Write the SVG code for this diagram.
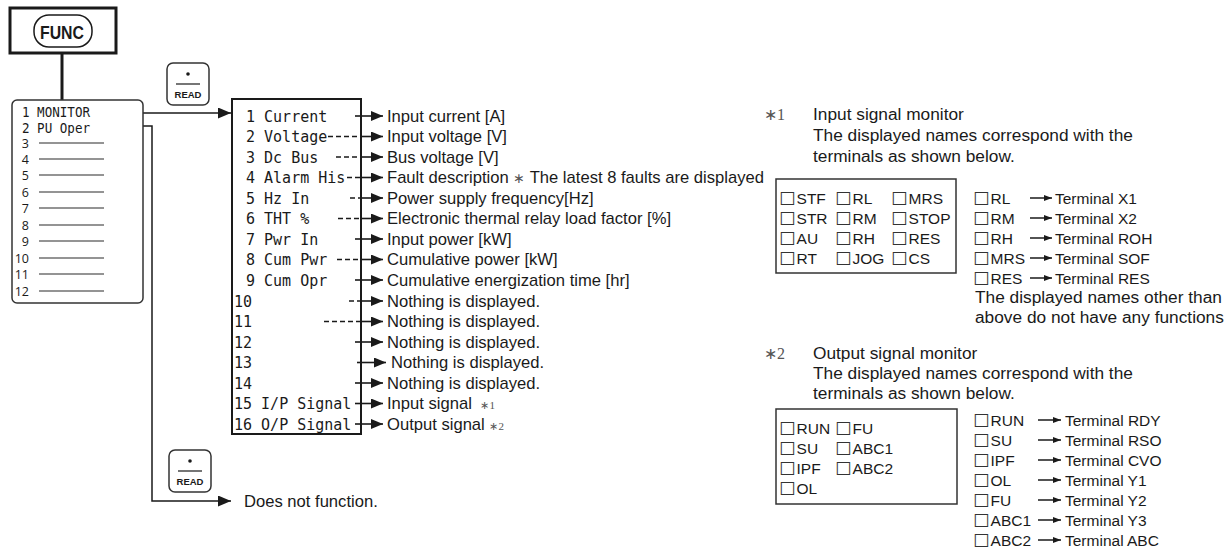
<svg xmlns="http://www.w3.org/2000/svg" width="1232" height="550" viewBox="0 0 1232 550">
<defs>
<style>
.bg{fill:#fff}
.ln{stroke:#1a1a1a;stroke-width:1.5;fill:none}
.thick{stroke:#1a1a1a;stroke-width:3;fill:none}
.gbox{stroke:#333;stroke-width:1.5;fill:#fff}
.gray{stroke:#707070;stroke-width:1.3}
.dash{stroke:#1a1a1a;stroke-width:1.6;stroke-dasharray:5 3;fill:none}
.sol{stroke:#1a1a1a;stroke-width:1.6;fill:none}
.mono{font-family:"DejaVu Sans Mono","Liberation Mono",monospace;fill:#1a1a1a}
.num{font-family:"Open Sans","Noto Sans",sans-serif;font-size:12.5px;fill:#1a1a1a}
.lbl{font-family:"Liberation Sans",Arial,sans-serif;font-size:16.6px;fill:#1a1a1a}
.note{font-family:"Liberation Sans",Arial,sans-serif;font-size:17.3px;fill:#1a1a1a}
.item{font-family:"Liberation Sans",Arial,sans-serif;font-size:15.5px;fill:#1a1a1a}
.sq{font-family:"DejaVu Sans",sans-serif;font-size:17.5px;fill:#333}
.ser{font-family:"Liberation Serif","Times New Roman",serif;fill:#555}
.key{font-family:"Liberation Sans",Arial,sans-serif;font-weight:bold;fill:#1a1a1a}
</style>
<marker id="ahL" markerWidth="13" markerHeight="11" refX="13" refY="5.5" orient="auto" markerUnits="userSpaceOnUse"><path d="M0,0 L13,5.5 L0,11 z" fill="#1a1a1a"/></marker>
<marker id="ah" markerWidth="12" markerHeight="10" refX="12" refY="5" orient="auto" markerUnits="userSpaceOnUse"><path d="M0,0 L12,5 L0,10 z" fill="#1a1a1a"/></marker>
<marker id="ahS" markerWidth="8" markerHeight="6" refX="8" refY="3" orient="auto" markerUnits="userSpaceOnUse"><path d="M0,0 L8,3 L0,6 z" fill="#1a1a1a"/></marker>
</defs>
<rect class="bg" x="0" y="0" width="1232" height="550"/>

<g id="connectors">
<line class="thick" x1="62" y1="53" x2="62" y2="100"/>
<path class="ln" d="M112,113 H231" marker-end="url(#ahL)"/>
<path class="ln" d="M112,126 H152 V501 H231" marker-end="url(#ahL)"/>
<g id="list-arrows">
<path class="dash" d="M355,116 H362"/><path class="sol" d="M361,116 H383" marker-end="url(#ah)"/>
<path class="dash" d="M328,136.5 H362"/><path class="sol" d="M361,136.5 H383" marker-end="url(#ah)"/>
<path class="dash" d="M336,157 H362"/><path class="sol" d="M361,157 H383" marker-end="url(#ah)"/>
<path class="dash" d="M347,177.5 H362"/><path class="sol" d="M361,177.5 H383" marker-end="url(#ah)"/>
<path class="dash" d="M350,198 H362"/><path class="sol" d="M361,198 H383" marker-end="url(#ah)"/>
<path class="dash" d="M338,218.5 H362"/><path class="sol" d="M361,218.5 H383" marker-end="url(#ah)"/>
<path class="dash" d="M355,239 H362"/><path class="sol" d="M361,239 H383" marker-end="url(#ah)"/>
<path class="dash" d="M337,259.5 H362"/><path class="sol" d="M361,259.5 H383" marker-end="url(#ah)"/>
<path class="dash" d="M355,280 H362"/><path class="sol" d="M361,280 H383" marker-end="url(#ah)"/>
<path class="dash" d="M349,301 H362"/><path class="sol" d="M361,301 H383" marker-end="url(#ah)"/>
<path class="dash" d="M324,321.5 H362"/><path class="sol" d="M361,321.5 H383" marker-end="url(#ah)"/>
<path class="dash" d="M355,342 H362"/><path class="sol" d="M361,342 H383" marker-end="url(#ah)"/>
<path class="dash" d="M357,362.5 H362"/><path class="sol" d="M361,362.5 H386" marker-end="url(#ah)"/>
<path class="dash" d="M355,383 H362"/><path class="sol" d="M361,383 H383" marker-end="url(#ah)"/>
<path class="dash" d="M355,403.5 H362"/><path class="sol" d="M361,403.5 H383" marker-end="url(#ah)"/>
<path class="dash" d="M355,424 H362"/><path class="sol" d="M361,424 H383" marker-end="url(#ah)"/>
</g>
<g id="input-map-arrows">
<path class="ln" d="M1030,198 H1052" marker-end="url(#ahS)"/>
<path class="ln" d="M1030,218 H1052" marker-end="url(#ahS)"/>
<path class="ln" d="M1030,238 H1052" marker-end="url(#ahS)"/>
<path class="ln" d="M1030,258 H1052" marker-end="url(#ahS)"/>
<path class="ln" d="M1030,278 H1052" marker-end="url(#ahS)"/>
</g>
<g id="output-map-arrows">
<path class="ln" d="M1038,420 H1061" marker-end="url(#ahS)"/>
<path class="ln" d="M1038,440 H1061" marker-end="url(#ahS)"/>
<path class="ln" d="M1038,460 H1061" marker-end="url(#ahS)"/>
<path class="ln" d="M1038,480 H1061" marker-end="url(#ahS)"/>
<path class="ln" d="M1038,500 H1061" marker-end="url(#ahS)"/>
<path class="ln" d="M1038,520 H1061" marker-end="url(#ahS)"/>
<path class="ln" d="M1038,540 H1061" marker-end="url(#ahS)"/>
</g>
</g>

<g id="func-key">
<rect x="10" y="8" width="106" height="45" fill="#fff" stroke="#1a1a1a" stroke-width="3"/>
<rect x="34" y="15" width="58" height="32" rx="15" fill="#fff" stroke="#1a1a1a" stroke-width="1.5"/>
<text class="key" x="62" y="38.5" font-size="18" text-anchor="middle" textLength="44" lengthAdjust="spacingAndGlyphs">FUNC</text>
</g>

<g id="menu">
<rect x="12" y="100" width="131" height="203" rx="5" class="gbox"/>
<text class="mono" x="22" y="117" font-size="14" textLength="68" lengthAdjust="spacingAndGlyphs">1 MONITOR</text>
<text class="mono" x="22" y="132.5" font-size="14" textLength="68" lengthAdjust="spacingAndGlyphs">2 PU Oper</text>
<g class="gray">
<line x1="39" y1="143" x2="104" y2="143"/><line x1="39" y1="159" x2="104" y2="159"/>
<line x1="39" y1="175" x2="104" y2="175"/><line x1="39" y1="192" x2="104" y2="192"/>
<line x1="39" y1="208" x2="104" y2="208"/><line x1="39" y1="225" x2="104" y2="225"/>
<line x1="39" y1="241" x2="104" y2="241"/><line x1="39" y1="258" x2="104" y2="258"/>
<line x1="39" y1="274" x2="104" y2="274"/><line x1="39" y1="291" x2="104" y2="291"/>
</g>
<g class="num" text-anchor="end">
<text x="29" y="148">3</text><text x="29" y="164">4</text><text x="29" y="180">5</text>
<text x="29" y="197">6</text><text x="29" y="213">7</text><text x="29" y="230">8</text>
<text x="29" y="246">9</text><text x="29" y="263">10</text><text x="29" y="279">11</text>
<text x="29" y="296">12</text>
</g>
</g>

<g id="read-key-1">
<rect x="167" y="63" width="42" height="42" rx="6" class="gbox" stroke-width="1.2"/>
<circle cx="188" cy="74" r="1.8" fill="#1a1a1a"/>
<line x1="176" y1="84" x2="200" y2="84" stroke="#1a1a1a" stroke-width="1.2"/>
<text class="key" x="188" y="98" font-size="9.5" text-anchor="middle">READ</text>
</g>

<g id="read-key-2">
<rect x="169" y="450" width="42" height="42" rx="6" class="gbox" stroke-width="1.2"/>
<circle cx="190" cy="461" r="1.8" fill="#1a1a1a"/>
<line x1="178" y1="471" x2="202" y2="471" stroke="#1a1a1a" stroke-width="1.2"/>
<text class="key" x="190" y="485" font-size="9.5" text-anchor="middle">READ</text>
</g>

<g id="not-function">
<text class="lbl" x="244" y="507">Does not function.</text>
</g>

<g id="monitor-list">
<rect x="232" y="99" width="129" height="335" fill="none" stroke="#1a1a1a" stroke-width="2"/>
<g class="mono" font-size="15">
<text x="246" y="121.5">1 Current</text>
<text x="246" y="142">2 Voltage</text>
<text x="246" y="162.5">3 Dc Bus</text>
<text x="246" y="183">4 Alarm His</text>
<text x="246" y="203.5">5 Hz In</text>
<text x="246" y="224">6 THT %</text>
<text x="246" y="244.5">7 Pwr In</text>
<text x="246" y="265">8 Cum Pwr</text>
<text x="246" y="285.5">9 Cum Opr</text>
<text x="234" y="306.5">10</text>
<text x="234" y="327">11</text>
<text x="234" y="347.5">12</text>
<text x="234" y="368">13</text>
<text x="234" y="388.5">14</text>
<text x="234" y="409">15 I/P Signal</text>
<text x="234" y="429.5">16 O/P Signal</text>
</g>
</g>

<g id="monitor-descriptions" class="lbl">
<text x="387" y="121.7">Input current [A]</text>
<text x="387" y="142.2">Input voltage [V]</text>
<text x="387" y="162.7">Bus voltage [V]</text>
<text x="387" y="183.2">Fault description <tspan class="ser" font-size="14">∗</tspan> The latest 8 faults are displayed</text>
<text x="387" y="203.7">Power supply frequency[Hz]</text>
<text x="387" y="224.2">Electronic thermal relay load factor [%]</text>
<text x="387" y="244.7">Input power [kW]</text>
<text x="387" y="265.2">Cumulative power [kW]</text>
<text x="387" y="285.7">Cumulative energization time [hr]</text>
<text x="387" y="306.7">Nothing is displayed.</text>
<text x="387" y="327.2">Nothing is displayed.</text>
<text x="387" y="347.7">Nothing is displayed.</text>
<text x="391" y="368.2">Nothing is displayed.</text>
<text x="387" y="388.7">Nothing is displayed.</text>
<text x="387" y="409.2">Input signal <tspan class="ser" font-size="11" dx="4">∗1</tspan></text>
<text x="387" y="429.7">Output signal <tspan class="ser" font-size="11">∗2</tspan></text>
</g>

<g id="note-input">
<text class="ser" x="764" y="120" font-size="16" fill="#333">∗1</text>
<text class="note" x="813" y="120">Input signal monitor</text>
<text class="note" x="813" y="141">The displayed names correspond with the</text>
<text class="note" x="813" y="162">terminals as shown below.</text>
<rect x="776" y="179" width="180" height="94" class="gbox"/>
<g class="item">
<text x="779" y="202.5"><tspan class="sq">□</tspan><tspan dx="1" dy="1">STF</tspan></text><text x="835" y="202.5"><tspan class="sq">□</tspan><tspan dx="1" dy="1">RL</tspan></text><text x="891" y="202.5"><tspan class="sq">□</tspan><tspan dx="1" dy="1">MRS</tspan></text>
<text x="779" y="222.5"><tspan class="sq">□</tspan><tspan dx="1" dy="1">STR</tspan></text><text x="835" y="222.5"><tspan class="sq">□</tspan><tspan dx="1" dy="1">RM</tspan></text><text x="891" y="222.5"><tspan class="sq">□</tspan><tspan dx="1" dy="1">STOP</tspan></text>
<text x="779" y="242.5"><tspan class="sq">□</tspan><tspan dx="1" dy="1">AU</tspan></text><text x="835" y="242.5"><tspan class="sq">□</tspan><tspan dx="1" dy="1">RH</tspan></text><text x="891" y="242.5"><tspan class="sq">□</tspan><tspan dx="1" dy="1">RES</tspan></text>
<text x="779" y="262.5"><tspan class="sq">□</tspan><tspan dx="1" dy="1">RT</tspan></text><text x="835" y="262.5"><tspan class="sq">□</tspan><tspan dx="1" dy="1">JOG</tspan></text><text x="891" y="262.5"><tspan class="sq">□</tspan><tspan dx="1" dy="1">CS</tspan></text>
</g>
<g class="item">
<text x="973" y="202.5"><tspan class="sq">□</tspan><tspan dx="1" dy="1">RL</tspan></text><text x="1055" y="203.5">Terminal X1</text>
<text x="973" y="222.5"><tspan class="sq">□</tspan><tspan dx="1" dy="1">RM</tspan></text><text x="1055" y="223.5">Terminal X2</text>
<text x="973" y="242.5"><tspan class="sq">□</tspan><tspan dx="1" dy="1">RH</tspan></text><text x="1055" y="243.5">Terminal ROH</text>
<text x="973" y="262.5"><tspan class="sq">□</tspan><tspan dx="1" dy="1">MRS</tspan></text><text x="1055" y="263.5">Terminal SOF</text>
<text x="973" y="282.5"><tspan class="sq">□</tspan><tspan dx="1" dy="1">RES</tspan></text><text x="1055" y="283.5">Terminal RES</text>
</g>
<text class="note" x="975" y="303">The displayed names other than</text>
<text class="note" x="975" y="323">above do not have any functions</text>
</g>

<g id="note-output">
<text class="ser" x="764" y="359" font-size="16" fill="#333">∗2</text>
<text class="note" x="813" y="359">Output signal monitor</text>
<text class="note" x="813" y="379">The displayed names correspond with the</text>
<text class="note" x="813" y="399">terminals as shown below.</text>
<rect x="776" y="409" width="181" height="95" class="gbox"/>
<g class="item">
<text x="779" y="432.5"><tspan class="sq">□</tspan><tspan dx="1" dy="1">RUN</tspan></text><text x="835" y="432.5"><tspan class="sq">□</tspan><tspan dx="1" dy="1">FU</tspan></text>
<text x="779" y="452.5"><tspan class="sq">□</tspan><tspan dx="1" dy="1">SU</tspan></text><text x="835" y="452.5"><tspan class="sq">□</tspan><tspan dx="1" dy="1">ABC1</tspan></text>
<text x="779" y="472.5"><tspan class="sq">□</tspan><tspan dx="1" dy="1">IPF</tspan></text><text x="835" y="472.5"><tspan class="sq">□</tspan><tspan dx="1" dy="1">ABC2</tspan></text>
<text x="779" y="492.5"><tspan class="sq">□</tspan><tspan dx="1" dy="1">OL</tspan></text>
</g>
<g class="item">
<text x="973" y="424.5"><tspan class="sq">□</tspan><tspan dx="1" dy="1">RUN</tspan></text><text x="1065" y="425.5">Terminal RDY</text>
<text x="973" y="444.5"><tspan class="sq">□</tspan><tspan dx="1" dy="1">SU</tspan></text><text x="1065" y="445.5">Terminal RSO</text>
<text x="973" y="464.5"><tspan class="sq">□</tspan><tspan dx="1" dy="1">IPF</tspan></text><text x="1065" y="465.5">Terminal CVO</text>
<text x="973" y="484.5"><tspan class="sq">□</tspan><tspan dx="1" dy="1">OL</tspan></text><text x="1065" y="485.5">Terminal Y1</text>
<text x="973" y="504.5"><tspan class="sq">□</tspan><tspan dx="1" dy="1">FU</tspan></text><text x="1065" y="505.5">Terminal Y2</text>
<text x="973" y="524.5"><tspan class="sq">□</tspan><tspan dx="1" dy="1">ABC1</tspan></text><text x="1065" y="525.5">Terminal Y3</text>
<text x="973" y="544.5"><tspan class="sq">□</tspan><tspan dx="1" dy="1">ABC2</tspan></text><text x="1065" y="545.5">Terminal ABC</text>
</g>
</g>
</svg>
